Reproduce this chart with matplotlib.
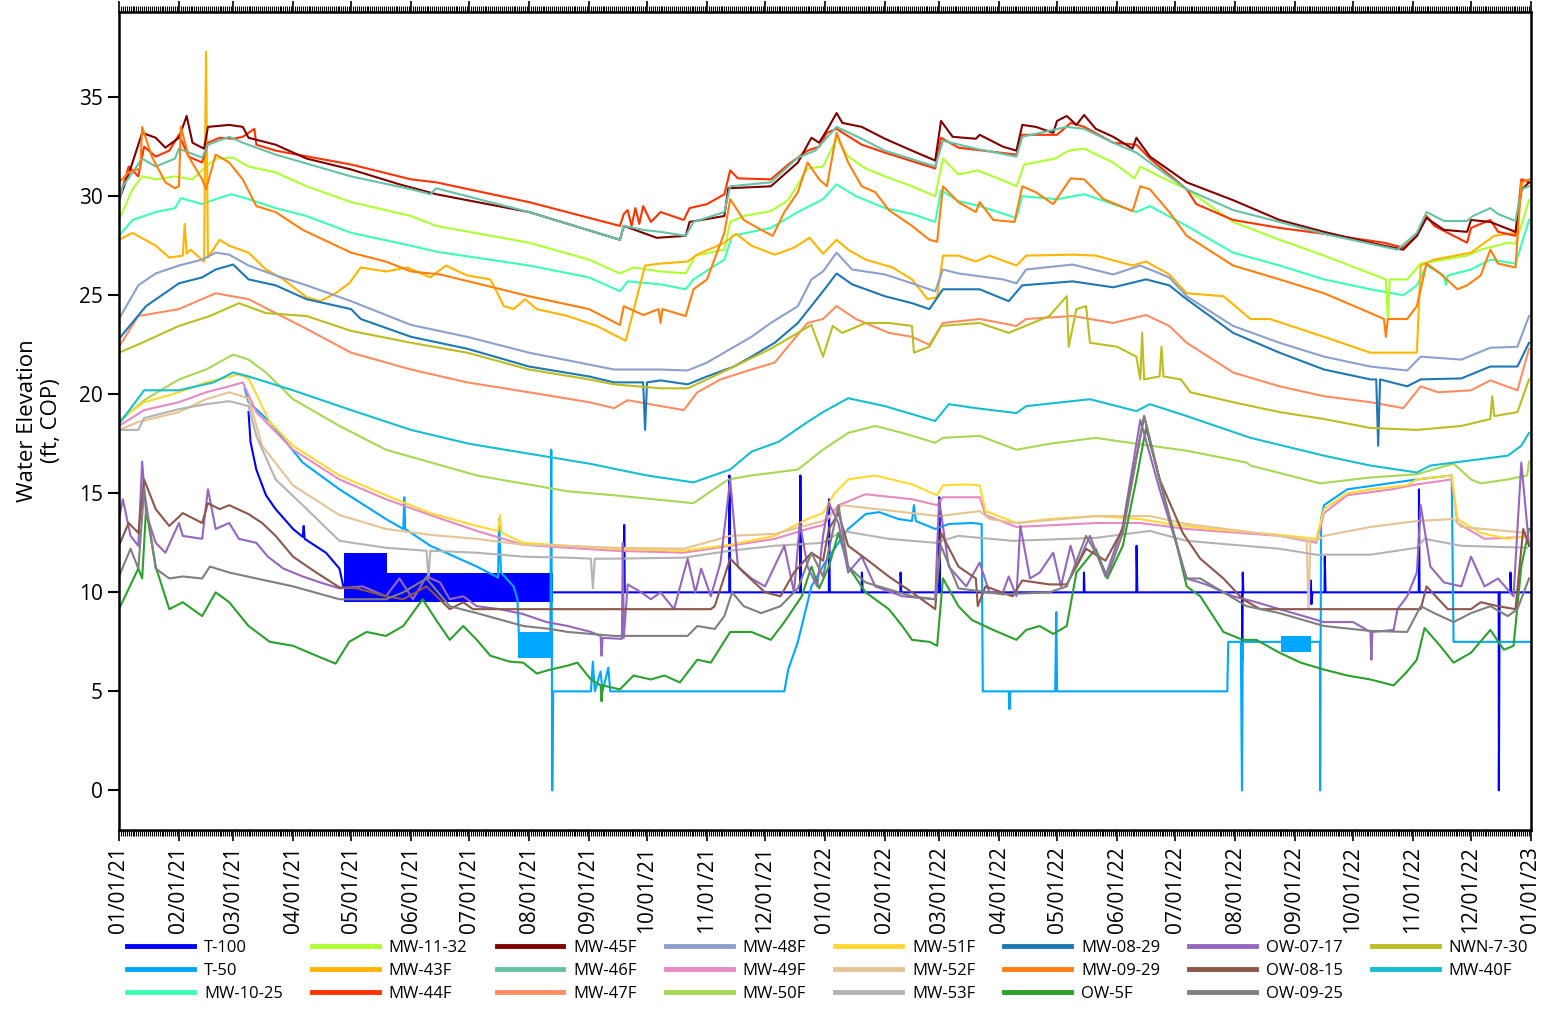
import numpy as np
import matplotlib

matplotlib.use("Agg")
import matplotlib.pyplot as plt
import matplotlib.dates as mdates
from matplotlib.lines import Line2D

plt.rcParams["font.family"] = ["Open Sans", "DejaVu Sans"]

START = "2021-01-01"

# (days since 01/01/21, water elevation ft COP)
t100 = [(67, 19.1), (68, 17.6), (71, 16.2), (76, 14.9), (81, 14.2), (90, 13.2), (95, 12.8), (95.5, 13.35),
        (96, 12.7), (107, 12.0), (114, 11.2), (116, 10.3), (224.5, 10.0), (261, 10.0), (261.2, 13.4),
        (261.5, 10.0), (315.5, 10.0), (315.6, 15.9), (316, 10.0), (352.2, 10.0), (352.3, 15.9),
        (352.6, 10.0), (367, 10.0), (367.1, 14.7), (367.5, 10.0), (384, 10.0), (384.1, 11.0), (384.5, 10.0),
        (404, 10.0), (404.1, 11.0), (404.4, 10.0), (424, 10.0), (424.1, 14.8), (424.5, 10.0), (498.8, 10.0),
        (498.9, 11.0), (499.2, 10.0), (526, 10.0), (526.1, 12.35), (526.5, 10.0), (580.6, 10.0),
        (580.7, 6.5), (581, 11.0), (581.3, 10.0), (616, 10.0), (616.2, 10.6), (616.5, 9.4), (617, 10.0),
        (623.3, 10.0), (623.4, 11.8), (623.8, 10.0), (672, 10.0), (672.1, 15.2), (672.4, 10.0),
        (713.3, 10.0), (713.4, 0.0), (713.8, 10.0), (719.3, 10.0), (719.4, 11.0), (719.8, 10.0), (730, 10.0)]
t100_band = [(116.5, 138.8, 9.5, 12.0), (138.8, 224.2, 9.5, 11.0)]

t50 = [(65, 20.3), (67, 19.6), (78, 18.6), (95, 16.55), (114, 15.2), (138, 13.7), (147, 13.2), (147.5, 14.8),
       (148, 13.2), (161, 12.35), (185, 11.3), (196, 10.75), (196.5, 13.7), (197.5, 11.0), (204, 10.3),
       (206, 9.65), (207, 7.3), (223, 7.3), (223.5, 17.2), (224, 0.0), (224.5, 5.0), (244, 5.0), (245, 6.5),
       (246, 5.0), (249, 6.0), (250, 5.0), (253, 6.2), (254, 5.0), (344, 5.0), (346, 6.1), (351, 7.5),
       (358, 10.3), (365, 11.5), (372, 12.5), (377, 13.2), (386, 13.95), (393, 14.05), (403, 13.7),
       (410, 13.6), (411, 14.4), (412, 13.6), (422, 13.2), (429, 13.45), (441, 13.5), (446, 13.45),
       (446.6, 5.0), (460, 5.0), (460.4, 4.1), (460.8, 5.0), (484, 5.0), (484.6, 9.0), (485, 5.0),
       (573, 5.0), (573.5, 7.5), (580, 7.5), (580.6, 0.0), (581, 7.5), (618, 7.5), (620.9, 7.5),
       (621, 0.0), (621.5, 13.7), (623, 14.4), (635, 15.2), (671, 15.7), (689, 15.9), (690, 7.5), (730, 7.5)]
t50_band = [(206.4, 224.2, 6.7, 8.0), (600.8, 616.2, 7.0, 7.8)]

mw1025 = [(0, 28.0), (7, 28.8), (19, 29.2), (29, 29.4), (32, 29.9), (43, 29.6), (50, 29.85), (58, 30.1),
          (67, 29.85), (81, 29.4), (97, 29.0), (120, 28.15), (151, 27.5), (164, 27.2), (212, 26.5),
          (243, 25.9), (259, 25.2), (263, 25.7), (280, 25.55), (293, 25.3), (297, 25.8), (313, 26.8),
          (317, 28.0), (337, 28.4), (351, 29.2), (364, 29.85), (371, 30.6), (381, 30.0), (396, 29.4),
          (410, 29.1), (422, 28.7), (425, 30.3), (434, 29.75), (445, 29.5), (464, 28.9), (467, 30.0),
          (485, 29.85), (499, 30.1), (514, 29.6), (526, 29.2), (533, 29.5), (552, 28.5), (576, 27.15),
          (600, 26.5), (623, 25.8), (647, 25.3), (664, 25.0), (671, 25.5), (676, 26.5), (685, 26.0),
          (686, 25.5), (687, 26.0), (699, 26.3), (709, 26.8), (722, 26.6), (729, 28.8)]

mw1132 = [(0, 28.8), (7, 30.35), (12, 31.0), (19, 30.85), (29, 31.0), (38, 30.85), (45, 31.5), (50, 31.9),
          (59, 31.95), (67, 31.5), (81, 31.2), (97, 30.5), (120, 29.7), (151, 29.0), (164, 28.5),
          (212, 27.65), (243, 26.8), (259, 26.1), (266, 26.4), (280, 26.2), (293, 26.1), (298, 27.0),
          (313, 27.3), (316, 28.7), (323, 29.0), (337, 29.25), (346, 29.8), (356, 31.4), (364, 31.5),
          (371, 32.9), (377, 32.0), (386, 31.4), (396, 31.0), (410, 30.5), (422, 30.0), (426, 31.9),
          (434, 31.1), (444, 31.3), (457, 30.8), (464, 30.5), (468, 31.6), (484, 31.9), (491, 32.3),
          (499, 32.4), (514, 31.7), (525, 30.9), (528, 31.5), (538, 31.0), (552, 30.35), (576, 28.7),
          (600, 27.8), (623, 27.0), (647, 26.1), (655, 25.8), (656, 23.8), (657, 25.8), (666, 25.8),
          (673, 26.6), (685, 26.8), (697, 27.0), (704, 27.3), (718, 27.65), (722, 27.6), (729, 29.8)]

mw43f = [(0, 27.8), (7, 28.15), (19, 27.5), (26, 26.9), (33, 27.0), (34, 28.6), (35, 27.1), (37, 27.3),
         (44, 26.7), (45, 37.3), (46, 26.9), (52, 27.8), (57, 27.5), (67, 27.15), (76, 26.3), (85, 25.8),
         (97, 24.9), (104, 24.7), (112, 25.1), (119, 25.6), (125, 26.4), (138, 26.2), (149, 26.4),
         (161, 25.9), (169, 26.5), (180, 26.0), (192, 25.8), (199, 24.45), (204, 24.3), (210, 24.8),
         (216, 24.3), (232, 23.95), (247, 23.45), (262, 22.7), (272, 26.5), (280, 26.6), (294, 26.7),
         (299, 27.05), (313, 27.65), (319, 28.1), (327, 27.5), (339, 27.05), (349, 27.4), (357, 27.9),
         (364, 27.1), (371, 27.8), (377, 27.3), (386, 26.8), (400, 26.4), (410, 25.8), (418, 24.8),
         (423, 24.9), (426, 27.0), (434, 27.0), (443, 26.7), (450, 27.0), (464, 26.5), (469, 27.0),
         (493, 27.05), (505, 27.0), (524, 26.5), (531, 26.7), (543, 26.05), (552, 25.1), (571, 24.95),
         (585, 23.8), (595, 23.8), (623, 22.9), (647, 22.1), (671, 22.1), (673, 26.5), (680, 26.8),
         (699, 27.15), (711, 28.0), (722, 28.15), (726, 30.85), (729, 30.7)]

mw44f = [(0, 29.8), (5, 31.5), (10, 31.0), (13, 32.5), (19, 32.0), (26, 32.3), (31, 33.1), (36, 32.0),
         (43, 31.7), (46, 32.7), (52, 32.95), (59, 32.9), (64, 33.0), (70, 33.4), (71, 32.6), (81, 32.3),
         (120, 31.6), (151, 30.85), (164, 30.7), (212, 29.7), (259, 28.5), (261, 29.1), (263, 29.3),
         (265, 28.5), (267, 29.4), (269, 28.6), (271, 29.5), (275, 28.7), (280, 29.2), (292, 28.8),
         (295, 29.4), (304, 29.6), (313, 30.1), (316, 31.3), (320, 30.9), (337, 30.85), (346, 31.6),
         (356, 32.3), (362, 32.5), (366, 33.2), (371, 33.4), (384, 32.6), (396, 32.2), (422, 31.4),
         (425, 32.95), (434, 32.45), (464, 32.1), (467, 33.1), (485, 33.1), (492, 33.7), (499, 33.5),
         (514, 32.7), (526, 32.6), (533, 31.9), (552, 30.35), (557, 29.6), (576, 28.8), (600, 28.4),
         (623, 28.1), (654, 27.65), (664, 27.4), (671, 28.0), (676, 29.0), (680, 28.5), (697, 27.65),
         (699, 28.4), (709, 28.8), (713, 28.2), (722, 28.0), (725, 30.85), (729, 30.7)]

mw45f = [(0, 29.8), (6, 31.4), (12, 33.2), (19, 32.95), (24, 32.45), (31, 32.95), (35, 34.05), (38, 32.7),
         (44, 32.4), (46, 33.5), (57, 33.6), (64, 33.5), (67, 32.95), (81, 32.6), (97, 31.9), (120, 31.35),
         (145, 30.6), (164, 30.1), (212, 29.2), (259, 27.8), (261, 28.5), (278, 27.9), (293, 28.0),
         (295, 28.7), (313, 29.0), (315, 30.4), (337, 30.5), (351, 31.7), (358, 32.95), (362, 32.7),
         (367, 33.5), (371, 34.2), (374, 33.7), (384, 33.5), (396, 32.9), (410, 32.3), (422, 31.8),
         (425, 33.8), (431, 33.0), (443, 32.9), (445, 33.1), (457, 32.5), (464, 32.3), (467, 33.6),
         (474, 33.5), (483, 33.2), (485, 33.8), (490, 34.05), (495, 33.6), (499, 34.1), (505, 33.4),
         (514, 33.0), (524, 32.4), (526, 32.95), (533, 32.0), (552, 30.7), (576, 29.8), (600, 28.8),
         (623, 28.2), (647, 27.65), (664, 27.3), (671, 28.0), (676, 28.9), (685, 28.3), (697, 28.2),
         (699, 28.8), (709, 28.7), (722, 28.2), (725, 30.3), (729, 30.7)]

mw46f = [(0, 29.7), (2, 30.5), (12, 31.9), (19, 31.5), (29, 31.9), (31, 32.4), (43, 31.95), (46, 32.6),
         (57, 33.0), (64, 32.7), (81, 32.1), (120, 31.0), (151, 30.35), (161, 30.1), (164, 30.4),
         (212, 29.2), (259, 27.8), (261, 28.5), (271, 28.3), (280, 28.2), (293, 28.0), (297, 28.7),
         (313, 29.2), (316, 30.5), (337, 30.7), (351, 31.95), (360, 32.3), (371, 33.5), (384, 32.9),
         (396, 32.3), (422, 31.5), (426, 32.8), (443, 32.4), (464, 32.0), (467, 33.0), (490, 33.5),
         (499, 33.4), (514, 32.7), (526, 32.2), (533, 31.7), (552, 30.35), (576, 29.3), (600, 28.7),
         (623, 28.1), (661, 27.3), (671, 28.15), (676, 29.2), (685, 28.75), (697, 28.75), (700, 29.0),
         (709, 29.4), (713, 29.1), (722, 28.75), (725, 30.35), (729, 30.5)]

mw47f = [(0, 22.4), (10, 23.95), (31, 24.3), (50, 25.1), (67, 24.8), (81, 24.1), (97, 23.3), (120, 22.1),
         (151, 21.25), (180, 20.6), (212, 20.1), (243, 19.6), (256, 19.3), (263, 19.7), (292, 19.2),
         (299, 20.1), (311, 20.75), (327, 21.25), (339, 21.6), (356, 23.6), (364, 23.8), (371, 24.45),
         (381, 23.8), (398, 23.1), (410, 22.9), (419, 22.5), (426, 23.6), (445, 23.8), (464, 23.45),
         (469, 23.8), (493, 23.95), (514, 23.6), (531, 24.0), (543, 23.45), (552, 22.6), (576, 21.1),
         (600, 20.4), (623, 19.9), (647, 19.6), (664, 19.3), (673, 20.4), (682, 20.1), (699, 20.2),
         (709, 20.7), (723, 20.2), (729, 22.3)]

mw48f = [(0, 23.8), (10, 25.5), (19, 26.1), (31, 26.5), (43, 26.8), (50, 27.15), (57, 27.05), (67, 26.5),
         (81, 26.0), (97, 25.5), (120, 24.7), (151, 23.5), (180, 22.9), (212, 22.1), (243, 21.5),
         (256, 21.25), (280, 21.25), (294, 21.2), (304, 21.6), (327, 22.9), (337, 23.6), (351, 24.45),
         (358, 25.8), (364, 26.2), (371, 27.15), (379, 26.3), (396, 26.05), (410, 25.6), (422, 25.2),
         (426, 26.3), (434, 26.1), (457, 25.8), (464, 25.6), (469, 26.3), (493, 26.55), (514, 26.05),
         (528, 26.5), (543, 25.9), (552, 24.95), (576, 23.45), (600, 22.6), (623, 21.9), (647, 21.4),
         (666, 21.2), (673, 21.9), (694, 21.75), (709, 22.35), (723, 22.4), (729, 23.95)]

mw49f = [(0, 18.4), (13, 19.2), (31, 19.6), (45, 20.1), (57, 20.4), (64, 20.6), (71, 19.1), (90, 17.2),
         (114, 15.7), (138, 14.7), (161, 13.9), (185, 13.1), (209, 12.4), (232, 12.25), (256, 12.1),
         (292, 12.0), (316, 12.35), (339, 12.7), (356, 13.2), (364, 13.4), (372, 14.4), (386, 14.95),
         (410, 14.7), (423, 14.4), (426, 14.8), (445, 14.8), (448, 13.9), (464, 13.3), (505, 13.5),
         (528, 13.5), (552, 13.2), (600, 12.85), (619, 12.5), (623, 14.0), (635, 14.9), (658, 15.2),
         (671, 15.45), (689, 15.7), (692, 13.5), (706, 12.7), (728, 12.8)]

mw50f = [(0, 18.6), (13, 19.7), (31, 20.75), (45, 21.25), (59, 22.0), (67, 21.75), (76, 21.1), (90, 19.75),
         (114, 18.4), (138, 17.2), (185, 15.9), (232, 15.1), (256, 14.9), (297, 14.5), (315, 15.7),
         (327, 15.9), (351, 16.2), (364, 17.2), (377, 18.05), (391, 18.4), (405, 18.05), (422, 17.55),
         (426, 17.8), (445, 17.9), (464, 17.2), (481, 17.5), (505, 17.8), (526, 17.5), (552, 17.15),
         (583, 16.55), (585, 16.4), (621, 15.5), (647, 15.8), (671, 15.96), (690, 16.5), (699, 15.7),
         (704, 15.5), (718, 15.7), (728, 15.9), (729, 16.6)]

mw51f = [(0, 18.7), (13, 19.6), (31, 20.1), (45, 20.6), (62, 21.0), (67, 20.8), (78, 18.6), (90, 17.4),
         (114, 15.9), (138, 14.9), (161, 14.0), (185, 13.35), (196, 13.1), (197, 13.9), (198, 13.0),
         (209, 12.5), (232, 12.35), (256, 12.2), (292, 12.1), (316, 12.4), (339, 12.85), (356, 13.7),
         (364, 14.0), (370, 15.0), (377, 15.7), (391, 15.9), (410, 15.45), (423, 14.9), (426, 15.4),
         (438, 15.45), (445, 15.4), (448, 14.1), (464, 13.5), (481, 13.7), (505, 13.85), (528, 13.7),
         (543, 13.45), (564, 13.2), (600, 12.9), (619, 12.7), (623, 14.2), (635, 15.0), (647, 15.2),
         (666, 15.4), (671, 15.7), (689, 15.9), (692, 13.7), (704, 13.0), (718, 12.7), (728, 12.85)]

mw52f = [(0, 18.2), (10, 18.6), (31, 19.1), (45, 19.75), (57, 20.1), (67, 19.8), (74, 17.4), (90, 15.4),
         (114, 13.9), (138, 13.2), (161, 12.9), (185, 12.7), (209, 12.4), (232, 12.35), (256, 12.25),
         (292, 12.2), (316, 12.85), (339, 12.95), (364, 13.6), (374, 14.4), (410, 14.0), (424, 13.85),
         (445, 14.1), (450, 13.7), (464, 13.5), (505, 13.85), (533, 13.85), (552, 13.45), (600, 12.85),
         (614, 12.65), (615, 9.2), (616, 12.65), (619, 12.6), (623, 12.85), (647, 13.3), (671, 13.6),
         (690, 13.7), (694, 13.3), (728, 13.0)]

mw53f = [(0, 18.2), (10, 18.2), (13, 18.8), (31, 19.25), (45, 19.5), (57, 19.65), (67, 19.4), (71, 17.9),
         (81, 15.7), (95, 14.4), (114, 12.6), (138, 12.25), (159, 12.1), (160, 10.7), (161, 12.1),
         (185, 12.0), (209, 11.8), (232, 11.75), (244, 11.7), (245, 10.2), (246, 11.7), (256, 11.7),
         (292, 11.75), (316, 12.1), (339, 12.35), (364, 12.5), (374, 13.1), (398, 12.7), (422, 12.5),
         (434, 12.85), (462, 12.6), (505, 12.75), (533, 13.1), (552, 12.6), (600, 12.2), (619, 11.9),
         (647, 11.9), (671, 12.25), (675, 12.7), (694, 12.35), (728, 12.25)]

mw0829 = [(0, 22.8), (14, 24.45), (31, 25.6), (43, 25.9), (50, 26.3), (59, 26.55), (67, 25.8), (81, 25.5),
          (97, 24.8), (120, 24.3), (125, 23.8), (151, 22.9), (180, 22.3), (212, 21.4), (243, 20.9),
          (256, 20.6), (271, 20.6), (272, 18.2), (273, 20.6), (280, 20.7), (294, 20.5), (304, 20.9),
          (318, 21.4), (327, 21.9), (339, 22.6), (351, 23.6), (364, 25.2), (371, 26.1), (379, 25.55),
          (396, 24.95), (410, 24.6), (419, 24.3), (426, 25.3), (445, 25.3), (460, 24.7), (467, 25.5),
          (493, 25.7), (514, 25.4), (531, 25.8), (543, 25.5), (552, 24.8), (576, 23.1), (600, 22.1),
          (623, 21.25), (647, 20.75), (650, 20.75), (651, 17.4), (652, 20.75), (666, 20.4), (673, 20.75),
          (694, 20.8), (709, 21.4), (723, 21.4), (729, 22.6)]

mw0929 = [(0, 30.7), (5, 31.2), (11, 31.4), (12, 33.5), (17, 32.0), (24, 30.7), (29, 30.4), (31, 30.5),
          (32, 33.5), (36, 32.0), (43, 30.85), (45, 30.35), (50, 32.1), (57, 31.7), (64, 30.85), (71, 29.5),
          (81, 29.2), (95, 28.3), (120, 27.15), (138, 26.7), (151, 26.2), (166, 26.05), (185, 25.6),
          (212, 24.95), (243, 24.3), (259, 23.5), (261, 24.45), (271, 24.0), (279, 24.3), (280, 23.6),
          (281, 24.3), (293, 23.95), (297, 25.3), (304, 25.8), (313, 28.15), (316, 29.85), (323, 28.8),
          (332, 28.3), (338, 28.0), (344, 29.2), (351, 30.2), (356, 31.7), (362, 30.85), (366, 30.5),
          (371, 33.2), (377, 31.7), (384, 30.5), (391, 30.2), (398, 29.3), (410, 28.5), (419, 27.8),
          (423, 27.7), (426, 30.5), (434, 29.7), (443, 29.2), (445, 29.7), (452, 28.8), (463, 28.7),
          (467, 30.5), (474, 30.2), (483, 29.6), (492, 30.9), (499, 30.85), (509, 29.85), (524, 29.25),
          (528, 30.5), (533, 30.35), (543, 29.2), (552, 28.0), (576, 26.5), (600, 25.8), (623, 25.1),
          (647, 24.1), (654, 23.8), (655, 22.9), (656, 23.8), (666, 23.8), (671, 24.45), (676, 26.6),
          (683, 26.1), (692, 25.3), (697, 25.5), (704, 26.0), (709, 27.3), (713, 26.6), (722, 26.4),
          (725, 30.7), (729, 30.85)]

ow5f = [(0, 9.15), (10, 11.2), (12, 10.7), (14, 14.2), (19, 11.3), (26, 9.15), (33, 9.5), (43, 8.8),
        (50, 10.0), (57, 9.5), (67, 8.3), (78, 7.5), (90, 7.3), (102, 6.8), (112, 6.4), (119, 7.5),
        (128, 8.0), (138, 7.8), (147, 8.3), (157, 9.65), (164, 8.6), (171, 7.6), (178, 8.3), (185, 7.6),
        (192, 6.8), (202, 6.5), (209, 6.45), (216, 5.9), (223, 6.1), (232, 6.3), (237, 6.45), (244, 5.6),
        (249, 5.3), (249.5, 4.5), (250, 5.3), (259, 5.1), (266, 5.8), (275, 5.6), (282, 5.8), (290, 5.45),
        (299, 6.6), (306, 6.45), (316, 8.0), (327, 8.0), (337, 7.6), (344, 8.5), (353, 9.8), (358, 11.3),
        (362, 10.2), (367, 11.3), (372, 13.0), (377, 11.3), (386, 10.0), (398, 9.15), (405, 8.3),
        (410, 7.6), (419, 7.5), (423, 7.3), (426, 10.7), (434, 9.3), (441, 8.6), (452, 8.1), (464, 7.6),
        (469, 8.1), (476, 8.3), (483, 7.9), (490, 8.3), (495, 11.0), (505, 12.2), (511, 10.7),
        (519, 12.35), (526, 15.7), (531, 18.3), (538, 15.7), (547, 12.35), (552, 10.3), (559, 9.8),
        (571, 8.0), (581, 7.6), (588, 7.6), (600, 6.95), (611, 6.45), (623, 6.1), (635, 5.8), (647, 5.6),
        (659, 5.3), (666, 6.0), (671, 6.6), (675, 8.2), (683, 7.3), (690, 6.45), (699, 6.95), (709, 8.1),
        (716, 7.1), (721, 7.3), (725, 11.3), (729, 13.2)]

ow0717 = [(0, 13.7), (2, 14.7), (6, 12.85), (10, 12.35), (12, 16.6), (14, 14.0), (19, 12.5), (24, 12.0),
          (31, 13.5), (33, 12.85), (43, 12.7), (46, 15.2), (50, 13.2), (57, 13.5), (62, 12.7), (71, 12.5),
          (77, 11.8), (85, 11.2), (95, 10.8), (104, 10.5), (114, 10.2), (126, 10.3), (138, 9.8),
          (145, 10.7), (152, 9.65), (159, 10.8), (166, 10.5), (171, 9.65), (178, 9.8), (185, 9.3),
          (197, 9.15), (209, 8.9), (221, 8.5), (232, 8.3), (244, 8.0), (249, 7.8), (249.5, 6.8), (250, 7.7),
          (260, 7.65), (260.5, 12.5), (261, 7.7), (263, 10.4), (270, 10.0), (275, 9.65), (280, 10.0),
          (287, 9.15), (294, 11.7), (298, 10.0), (301, 11.2), (306, 9.8), (311, 11.5), (316, 15.7),
          (320, 11.3), (327, 10.7), (334, 10.3), (344, 12.35), (349, 10.0), (352, 13.5), (356, 11.3),
          (361, 10.3), (364, 12.85), (367, 14.5), (372, 13.5), (377, 11.0), (384, 11.8), (391, 10.3),
          (405, 9.8), (422, 9.65), (424, 14.7), (429, 11.3), (438, 10.3), (445, 11.5), (450, 10.0),
          (457, 10.0), (460, 10.8), (464, 9.8), (466, 13.35), (471, 10.7), (476, 11.0), (483, 12.0),
          (487, 10.3), (492, 12.35), (495, 11.3), (502, 12.85), (510, 10.8), (519, 13.35), (528, 18.7),
          (538, 15.2), (547, 12.35), (552, 10.7), (562, 10.4), (576, 9.8), (588, 9.5), (600, 9.15),
          (623, 8.5), (638, 8.5), (647, 8.0), (647.5, 6.6), (648, 8.0), (659, 8.1), (661, 9.15), (666, 9.8),
          (671, 11.0), (673, 14.4), (678, 11.3), (685, 10.5), (694, 10.3), (699, 11.8), (706, 10.3),
          (713, 10.7), (721, 9.8), (725, 16.55), (729, 12.35)]

ow0815 = [(0, 12.35), (5, 13.5), (10, 13.0), (13, 15.7), (19, 14.2), (26, 13.35), (33, 14.0), (43, 13.5),
          (46, 14.5), (52, 14.2), (57, 14.4), (67, 13.95), (74, 13.5), (81, 12.85), (90, 11.8), (102, 11.0),
          (114, 10.25), (123, 10.2), (138, 9.8), (147, 9.65), (159, 10.3), (171, 9.15), (178, 9.5),
          (183, 9.15), (306, 9.15), (308, 9.3), (316, 11.7), (323, 11.0), (334, 10.0), (342, 9.8),
          (349, 11.0), (358, 12.0), (364, 11.6), (367, 13.2), (372, 14.0), (377, 12.35), (386, 11.7),
          (398, 10.8), (410, 10.0), (422, 9.15), (425, 13.0), (434, 11.3), (443, 10.7), (444, 9.3),
          (448, 10.3), (462, 9.8), (467, 10.6), (481, 10.4), (490, 10.4), (500, 12.2), (510, 11.6),
          (519, 13.2), (530, 18.9), (538, 15.7), (550, 13.0), (559, 11.7), (571, 10.7), (581, 9.65),
          (590, 9.15), (673, 9.15), (676, 10.3), (687, 9.15), (699, 9.15), (704, 9.5), (713, 9.3),
          (722, 9.15), (726, 13.2), (729, 12.35)]

ow0925 = [(0, 10.8), (6, 12.2), (10, 11.2), (13, 15.2), (19, 11.2), (26, 10.7), (33, 10.8), (43, 10.7),
          (47, 11.3), (57, 11.0), (71, 10.7), (90, 10.3), (114, 9.65), (138, 9.65), (147, 10.0),
          (159, 10.7), (171, 9.3), (185, 8.95), (209, 8.3), (223, 8.15), (232, 8.0), (256, 7.8), (294, 7.8),
          (299, 8.3), (308, 8.15), (313, 8.8), (317, 10.0), (323, 9.3), (332, 8.95), (342, 9.3),
          (351, 10.2), (358, 12.0), (364, 10.8), (372, 14.4), (377, 11.3), (386, 10.5), (410, 9.8),
          (422, 9.65), (425, 12.35), (434, 10.2), (457, 9.9), (481, 10.0), (490, 10.3), (500, 12.85),
          (505, 12.0), (511, 10.8), (519, 13.0), (530, 18.9), (538, 15.7), (550, 11.3), (552, 10.7),
          (559, 10.7), (571, 10.0), (583, 9.3), (600, 8.95), (623, 8.3), (647, 8.05), (666, 8.0),
          (673, 9.3), (680, 8.95), (690, 8.5), (699, 8.95), (709, 9.3), (718, 8.8), (723, 9.15), (729, 10.7)]

nwn730 = [(0, 22.1), (12, 22.6), (31, 23.45), (47, 23.95), (62, 24.6), (76, 24.1), (97, 23.95), (120, 23.2),
          (151, 22.6), (180, 22.1), (212, 21.25), (243, 20.75), (256, 20.5), (280, 20.3), (294, 20.3),
          (304, 20.75), (318, 21.4), (337, 22.3), (351, 23.1), (358, 23.5), (364, 21.9), (369, 23.45),
          (374, 23.1), (386, 23.6), (398, 23.6), (410, 23.45), (411, 22.1), (419, 22.4), (425, 23.45),
          (445, 23.6), (460, 23.1), (481, 23.95), (490, 24.95), (491, 22.4), (495, 24.3), (500, 24.45),
          (502, 22.6), (516, 22.4), (526, 21.9), (528, 20.75), (529, 23.1), (530, 20.75), (538, 20.9),
          (539, 22.4), (540, 20.9), (549, 20.75), (554, 20.1), (576, 19.6), (600, 19.1), (623, 18.75),
          (647, 18.3), (671, 18.2), (694, 18.4), (709, 18.75), (710, 19.9), (711, 18.9), (723, 19.1),
          (729, 20.75)]

mw40f = [(0, 18.5), (13, 20.2), (31, 20.2), (49, 20.6), (59, 21.1), (67, 20.9), (90, 20.2), (120, 19.2),
         (151, 18.2), (181, 17.5), (212, 17.0), (243, 16.5), (273, 15.9), (297, 15.55), (316, 16.2),
         (327, 17.1), (341, 17.6), (356, 18.6), (364, 19.1), (377, 19.8), (396, 19.4), (422, 18.65),
         (429, 19.5), (443, 19.3), (464, 19.05), (469, 19.4), (502, 19.75), (526, 19.15), (533, 19.5),
         (552, 18.9), (585, 17.8), (623, 16.9), (647, 16.4), (671, 16.05), (678, 16.4), (694, 16.6),
         (718, 16.9), (725, 17.4), (729, 18.05)]

names = ["T-100", "T-50", "MW-10-25", "MW-11-32", "MW-43F", "MW-44F", "MW-45F", "MW-46F",
         "MW-47F", "MW-48F", "MW-49F", "MW-50F", "MW-51F", "MW-52F", "MW-53F", "MW-08-29",
         "MW-09-29", "OW-5F", "OW-07-17", "OW-08-15", "OW-09-25", "NWN-7-30", "MW-40F"]
series = [t100, t50, mw1025, mw1132, mw43f, mw44f, mw45f, mw46f, mw47f, mw48f, mw49f, mw50f,
          mw51f, mw52f, mw53f, mw0829, mw0929, ow5f, ow0717, ow0815, ow0925, nwn730, mw40f]
colors = ["#0000ff", "#00a6ff", "#3dffb4", "#adff2f", "#ffb400", "#ff3300", "#800000", "#66c2a5",
          "#fc8d62", "#8da0cb", "#e78ac3", "#a6d854", "#ffd92f", "#e5c494", "#b3b3b3", "#1f77b4",
          "#ff7f0e", "#2ca02c", "#9467bd", "#8c564b", "#7f7f7f", "#bcbd22", "#17becf"]

fig = plt.figure(figsize=(15.43, 10.09), dpi=100)
ax = fig.add_axes([0.0771, 0.1774, 0.9151, 0.8107])
base = mdates.date2num(np.datetime64(START))

for name, col, data in zip(names, colors, series):
    d, v = np.array(data).T
    ax.plot(base + d, v, color=col, lw=1.5, label=name)

# transducer readings that oscillate fast show up as solid blocks
for d0, d1, lo, hi in t100_band:
    ax.fill_between([base + d0, base + d1], lo, hi, color=colors[0], lw=0)
for d0, d1, lo, hi in t50_band:
    ax.fill_between([base + d0, base + d1], lo, hi, color=colors[1], lw=0)

ax.set_xlim(base, base + 730)
ax.set_ylim(-2, 39.3)
ax.xaxis.set_major_locator(mdates.MonthLocator())
ax.xaxis.set_major_formatter(mdates.DateFormatter("%m/%d/%y"))
ax.xaxis.set_minor_locator(mdates.DayLocator())
ax.tick_params(axis="x", which="both", direction="out", top=True, bottom=True, labeltop=False,
               labelrotation=90, labelsize=15, width=1.2)
ax.tick_params(axis="x", which="major", length=8)
ax.tick_params(axis="x", which="minor", length=4, width=0.8)
ax.set_yticks(np.arange(0, 36, 5))
ax.tick_params(axis="y", direction="out", length=8, width=1.5, labelsize=15, right=False)
for s in ax.spines.values():
    s.set_linewidth(1.8)
ax.set_ylabel("Water Elevation\n(ft, COP)", fontsize=16, labelpad=12)

handles = [Line2D([], [], color=c, lw=3.5) for c in colors]
fig.legend(handles, names, ncol=8, loc="upper left", bbox_to_anchor=(0.075, 0.08),
           frameon=False, fontsize=12, handlelength=4.0, handletextpad=0.6,
           columnspacing=1.75, labelspacing=0.42, borderpad=0.2)

fig.savefig("out.png", dpi=100)
